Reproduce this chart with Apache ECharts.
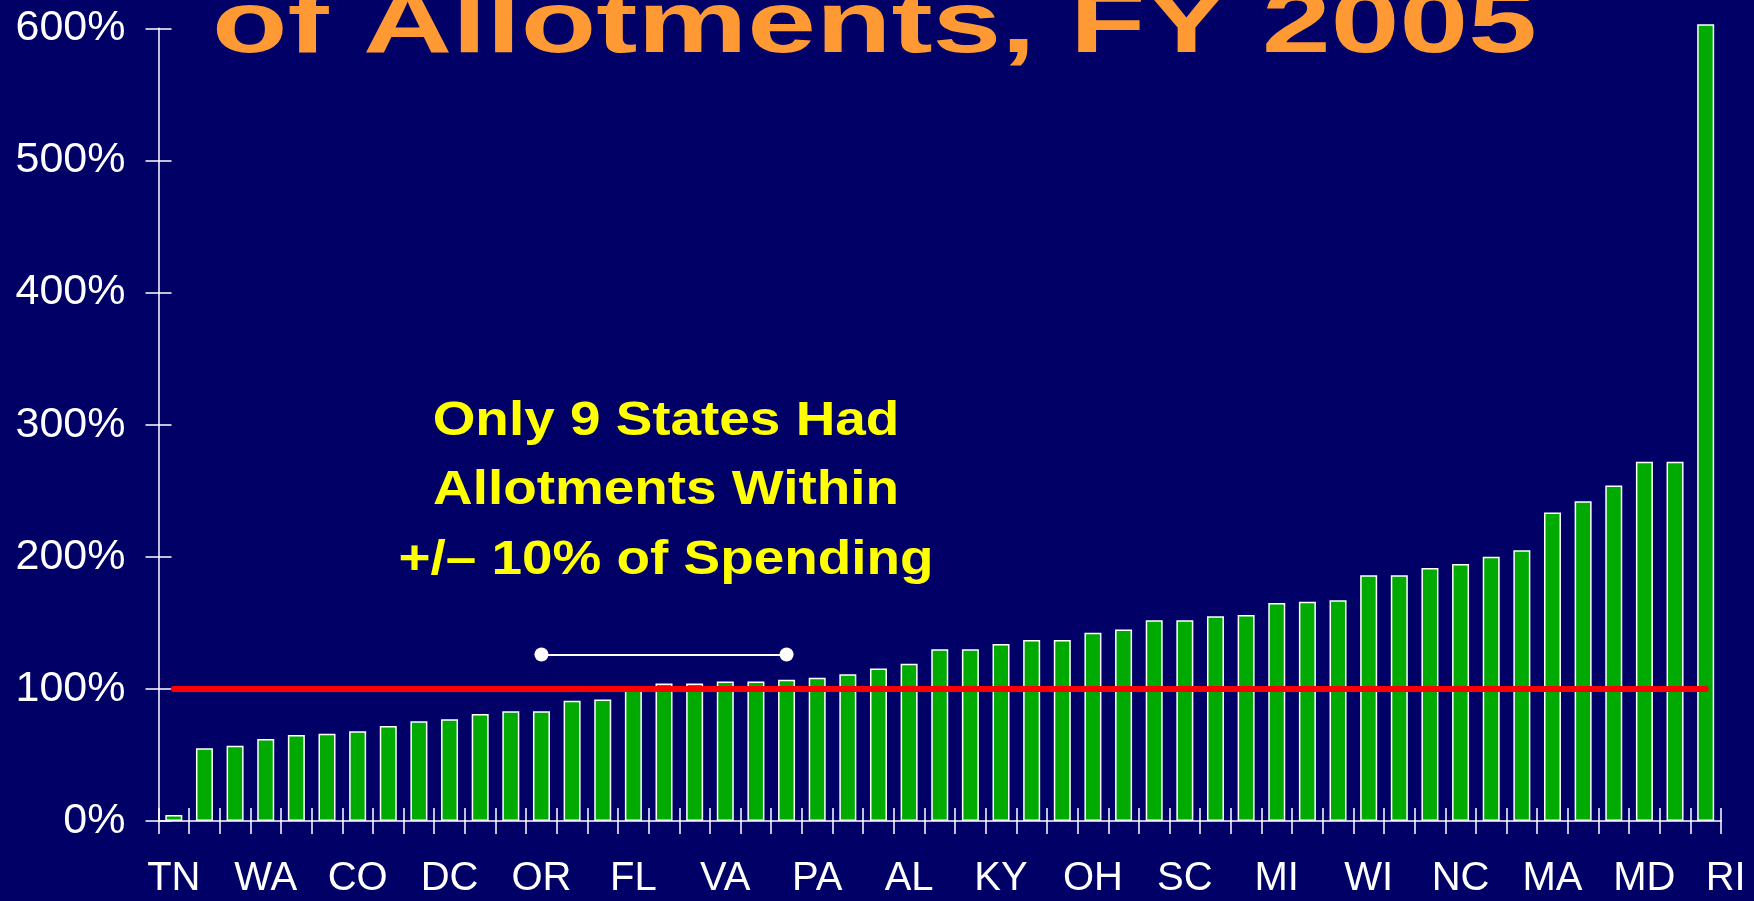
<!DOCTYPE html>
<html>
<head>
<meta charset="utf-8">
<style>
    html, body { margin: 0; padding: 0; background: #000066; }
    #chart { width: 1754px; height: 901px; }
</style>
<script src="https://cdn.jsdelivr.net/npm/echarts@6.0.0/dist/echarts.min.js"></script>
</head>
<body>
<div id="chart"></div>
<script>
    // states ordered by spending / allotment, the slide only names every third one
    let states = ['TN','','','WA','','','CO','','','DC','','','OR','','','FL','','',
                  'VA','','','PA','','','AL','','','KY','','','OH','','','SC','','',
                  'MI','','','WI','','','NC','','','MA','','','MD','','RI'];

    // spending as % of allotment, FY 2005
    let ratios = [4.5, 55, 57, 62, 65, 66, 68, 72, 75.5, 77, 81, 83, 83, 91, 92,
                  99, 104, 104, 105.5, 105.5, 107, 108.5, 111, 115.5, 119, 130, 130, 134, 137, 137,
                  142.5, 145, 152, 152, 155, 156, 165, 166, 167, 186, 186, 191.5, 194.5, 200, 205,
                  233.5, 242, 254, 272, 272, 603];

    let yTicks = [0, 100, 200, 300, 400, 500, 600];
    let target = 100;
    // white bracket over the states near 100%
    let bracketFrom = 12, bracketTo = 20, bracketLevel = 126;

    let titleText = 'of Allotments, FY 2005';
    let noteLines = ['Only 9 States Had', 'Allotments Within', '+/\u2013 10% of Spending'];

    let chart = echarts.init(document.getElementById('chart'));

    let fontName = '"Liberation Sans", Arial, sans-serif';

    let noteGraphics = noteLines.map((t, i) => ({
        type: 'text',
        x: 666,
        y: 421 + i * 69.5,
        scaleX: 1.12,
        z: 50,
        style: {
            text: t,
            x: 0, y: 0,
            align: 'center',
            verticalAlign: 'middle',
            font: 'bold 49px ' + fontName,
            fill: '#FFFF00'
        }
    }));

    let option = {
        backgroundColor: '#000066',
        animation: false,
        grid: {
            left: 158.5,
            right: 33,
            top: 28.3,
            bottom: 80,
            containLabel: false,
            outerBoundsMode: 'none'
        },
        graphic: [{
            type: 'text',
            x: 212,
            y: 28,
            scaleX: 1.42,
            z: 50,
            style: {
                text: titleText,
                x: 0, y: 0,
                align: 'left',
                verticalAlign: 'middle',
                font: 'bold 87px ' + fontName,
                fill: '#FF9933'
            }
        }].concat(noteGraphics),
        xAxis: [{
            type: 'category',
            position: 'bottom',
            data: states.map((s, i) => i === states.length - 1 ? {value: s, textStyle: {align: 'left'}} : s),
            boundaryGap: true,
            axisLine: { lineStyle: { color: '#FFFFFF', width: 1.5 } },
            axisTick: { show: true, inside: true, length: 13, interval: 0, lineStyle: { color: '#FFFFFF', width: 1.5 } },
            axisLabel: { interval: 0, color: '#FFFFFF', fontSize: 40, fontFamily: fontName, margin: 38 },
            splitLine: { show: false }
        }, {
            type: 'category',
            position: 'bottom',
            data: states,
            boundaryGap: true,
            axisLine: { show: false },
            axisTick: { show: true, inside: false, length: 13, interval: 0, lineStyle: { color: '#FFFFFF', width: 1.5 } },
            axisLabel: { show: false },
            splitLine: { show: false }
        }],
        yAxis: [{
            type: 'value',
            position: 'left',
            min: yTicks[0],
            max: yTicks[yTicks.length - 1],
            interval: yTicks[1] - yTicks[0],
            axisLine: { show: true, lineStyle: { color: '#FFFFFF', width: 1.5 } },
            axisTick: { show: true, inside: false, length: 13, lineStyle: { color: '#FFFFFF', width: 1.5 } },
            axisLabel: { color: '#FFFFFF', fontSize: 43, fontFamily: fontName, margin: 33, formatter: '{value}%' },
            splitLine: { show: false }
        }, {
            type: 'value',
            position: 'left',
            min: yTicks[0],
            max: yTicks[yTicks.length - 1],
            interval: yTicks[1] - yTicks[0],
            axisLine: { show: false },
            axisTick: { show: true, inside: true, length: 13, lineStyle: { color: '#FFFFFF', width: 1.5 } },
            axisLabel: { show: false },
            splitLine: { show: false }
        }],
        series: [{
            type: 'bar',
            xAxisIndex: 0,
            yAxisIndex: 0,
            data: ratios,
            barWidth: 17,
            clip: false,
            itemStyle: {
                color: '#00AA00',
                borderColor: '#FFFFFF',
                borderWidth: 1.5
            },
            emphasis: { disabled: true },
            markLine: {
                silent: true,
                animation: false,
                label: { show: false },
                emphasis: { disabled: true },
                data: [
                    [
                        { coord: [0, target], symbol: 'none', lineStyle: { color: '#FF0000', width: 6, type: 'solid', cap: 'round' } },
                        { coord: [states.length - 1, target], symbol: 'none' }
                    ],
                    [
                        { coord: [bracketFrom, bracketLevel], symbol: 'circle', symbolSize: 14,
                          itemStyle: { color: '#FFFFFF' },
                          lineStyle: { color: '#FFFFFF', width: 2, type: 'solid' } },
                        { coord: [bracketTo, bracketLevel], symbol: 'circle', symbolSize: 14,
                          itemStyle: { color: '#FFFFFF' } }
                    ]
                ]
            }
        }]
    };

    chart.setOption(option);
</script>
</body>
</html>
